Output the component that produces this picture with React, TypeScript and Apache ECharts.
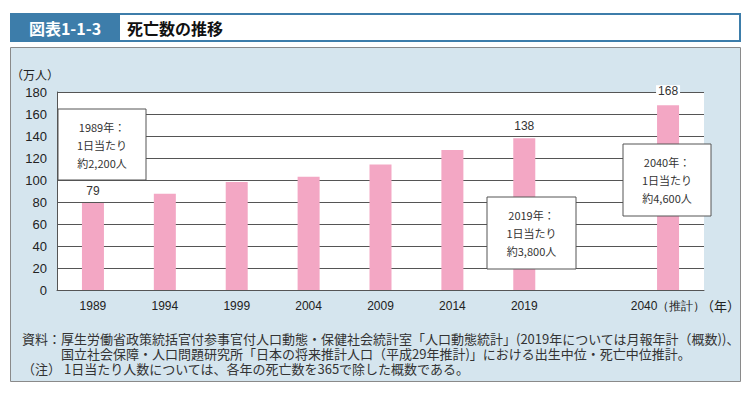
import React, { useEffect, useRef } from "react";
import * as echarts from "echarts";

const categories = ["1989", "1994", "1999", "2004", "2009", "2014", "2019", "", "2040（推計）"];
const deaths = [79, 87.6, 98.2, 102.9, 114.2, 127.3, 138, null, 168];
const labeledIdx = [0, 6, 8];
const yTicks = { min: 0, max: 180, interval: 20 };
const notes = [
  "1989年：\n1日当たり\n約2,200人",
  "2019年：\n1日当たり\n約3,800人",
  "2040年：\n1日当たり\n約4,600人",
];
const footer = [
  "資料：厚生労働省政策統括官付参事官付人口動態・保健社会統計室「人口動態統計」(2019年については月報年計（概数))、",
  "　　　国立社会保障・人口問題研究所「日本の将来推計人口（平成29年推計)」における出生中位・死亡中位推計。",
  "（注） 1日当たり人数については、各年の死亡数を365で除した概数である。",
];

const JP = "Noto Sans CJK JP";
const NUM = "Liberation Sans";

export default function App() {
  const ref = useRef<HTMLDivElement>(null);
  useEffect(() => {
    if (!ref.current) return;
    const chart = echarts.init(ref.current, null, { renderer: "svg" });
    const noteBox = (x: number, y: number, w: number, h: number, t: string) => [
      { type: "rect", z: 100, shape: { x, y, width: w, height: h }, style: { fill: "#fff", stroke: "#555", lineWidth: 1 } },
      {
        type: "text", z: 101, x: x + w / 2, y: y + h / 2,
        style: { text: t, fill: "#333", fontSize: 11, fontFamily: JP, align: "center", verticalAlign: "middle", lineHeight: 18 },
      },
    ];
    chart.setOption({
      animation: false,
      backgroundColor: "#fff",
      textStyle: { fontFamily: NUM },
      grid: { left: 57, right: 46, top: 92, bottom: 110, show: true, backgroundColor: "#fff", borderWidth: 0, z: -1 },
      xAxis: {
        type: "category",
        data: categories,
        axisTick: { show: false },
        axisLine: { lineStyle: { color: "#555", width: 1 } },
        axisLabel: { color: "#222", fontSize: 12, fontFamily: NUM, margin: 10, interval: 0 },
      },
      yAxis: {
        type: "value",
        ...yTicks,
        name: "（万人）",
        nameLocation: "end",
        nameGap: 12,
        nameTextStyle: { color: "#222", fontSize: 12, fontFamily: JP, align: "right", padding: [0, -2, 0, 0] },
        axisLine: { show: true, lineStyle: { color: "#555" } },
        axisTick: { show: false },
        axisLabel: { color: "#222", fontSize: 13, fontFamily: NUM, margin: 10 },
        splitLine: { show: true, lineStyle: { color: "#555", width: 1 } },
      },
      series: [
        {
          type: "bar",
          barWidth: 22,
          z: 3,
          itemStyle: { color: "#f3a7c4" },
          data: deaths.map((v, i) => ({
            value: v,
            label: labeledIdx.includes(i)
              ? {
                  show: true, position: "top", distance: 6, color: "#333", fontSize: 12, fontFamily: NUM,
                  backgroundColor: i === 8 ? "#fff" : "transparent", padding: [0, 2],
                  offset: i === 8 ? [0, -2] : [0, 0],
                }
              : { show: false },
          })),
        },
      ],
      graphic: [
        { type: "rect", z: -100, shape: { x: 10.5, y: 47.5, width: 730, height: 334 }, style: { fill: "#d5e5ee", stroke: "#8a8a8a", lineWidth: 1 } },
        { type: "rect", z: -100, shape: { x: 11, y: 14, width: 729, height: 27 }, style: { fill: "#fff", stroke: "#3d7daa", lineWidth: 2 } },
        { type: "rect", z: -99, shape: { x: 10, y: 13, width: 110, height: 29 }, style: { fill: "#3d7daa" } },
        { type: "text", z: -98, x: 65, y: 28, style: { text: "図表1-1-3", fill: "#fff", fontSize: 16, fontWeight: "bold", fontFamily: JP, align: "center", verticalAlign: "middle" } },
        { type: "text", z: -98, x: 127, y: 28, style: { text: "死亡数の推移", fill: "#111", fontSize: 16, fontWeight: "bold", fontFamily: JP, align: "left", verticalAlign: "middle" } },
        { type: "text", z: 5, x: 701, y: 305, style: { text: "（年）", fill: "#222", fontSize: 13, fontFamily: JP, align: "left", verticalAlign: "middle" } },
        ...noteBox(58, 109, 88, 71, notes[0]),
        ...noteBox(487, 197, 89, 72, notes[1]),
        ...noteBox(623, 144, 88, 72, notes[2]),
        {
          type: "text", z: 5, x: 22, y: 353,
          style: { text: footer.join("\n"), fill: "#333", fontSize: 13, fontFamily: JP, verticalAlign: "middle", lineHeight: 15 },
        },
      ],
    });
    return () => chart.dispose();
  }, []);
  return <div ref={ref} style={{ position: "fixed", left: 0, top: 0, width: 750, height: 400 }} />;
}
